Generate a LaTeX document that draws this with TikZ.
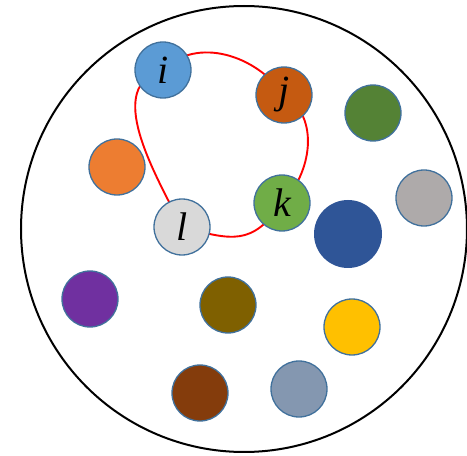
\documentclass[tikz,border=0pt]{standalone}
\usepackage{fontspec}
\setmainfont{Liberation Serif}
\usetikzlibrary{backgrounds}
\definecolor{rim}{HTML}{41719C}
\definecolor{cI}{HTML}{5B9BD5}
\definecolor{cJ}{HTML}{C55A11}
\definecolor{cDG}{HTML}{548235}
\definecolor{cOR}{HTML}{ED7D31}
\definecolor{cGR}{HTML}{AEAAAA}
\definecolor{cK}{HTML}{70AD47}
\definecolor{cL}{HTML}{D9D9D9}
\definecolor{cDB}{HTML}{2F5597}
\definecolor{cPU}{HTML}{7030A0}
\definecolor{cOL}{HTML}{7F6000}
\definecolor{cYE}{HTML}{FFC000}
\definecolor{cBR}{HTML}{843C0C}
\definecolor{cSL}{HTML}{8497B0}
\tikzset{
  ball/.style={circle, draw=rim, line width=1.3pt, minimum size=56pt, inner sep=0pt,
    font=\fontsize{40}{40}\selectfont\itshape},
  loop/.style={red, line width=1.9pt},
  rimcircle/.style={circle, draw=black, line width=2pt, minimum size=446pt, inner sep=0pt}
}
\begin{document}
\begin{tikzpicture}[x=1pt,y=1pt]
\clip (0,0) rectangle (467,456);
\useasboundingbox (0,0) rectangle (467,456);
\node[rimcircle] (outer) at (244,227) {};
\node[ball, fill=cI] (i) at (163,386) {i};
\node[ball, fill=cJ] (j) at (284,361) {j};
\node[ball, fill=cDG] (dg) at (373,343) {};
\node[ball, fill=cOR] (or) at (117,289) {};
\node[ball, fill=cGR] (gr) at (424,258) {};
\node[ball, fill=cK] (k) at (282,253) {k};
\node[ball, fill=cL] (l) at (182,229) {l};
\node[ball, fill=cDB, draw=none, minimum size=68pt] (db) at (348,222) {};
\node[ball, fill=cPU] (pu) at (90,157) {};
\node[ball, fill=cOL] (ol) at (228,151) {};
\node[ball, fill=cYE] (ye) at (352,129) {};
\node[ball, fill=cBR] (br) at (200,63) {};
\node[ball, fill=cSL] (sl) at (299,67) {};
\begin{pgfonlayer}{background}
\draw[loop] (i.center) to[out=45,in=125] (j.center)
  to[out=-31,in=45] (k.center)
  to[out=-125,in=-15,looseness=1.3] (l.center)
  to[out=117,in=195] (i.center);
\end{pgfonlayer}
\end{tikzpicture}
\end{document}
